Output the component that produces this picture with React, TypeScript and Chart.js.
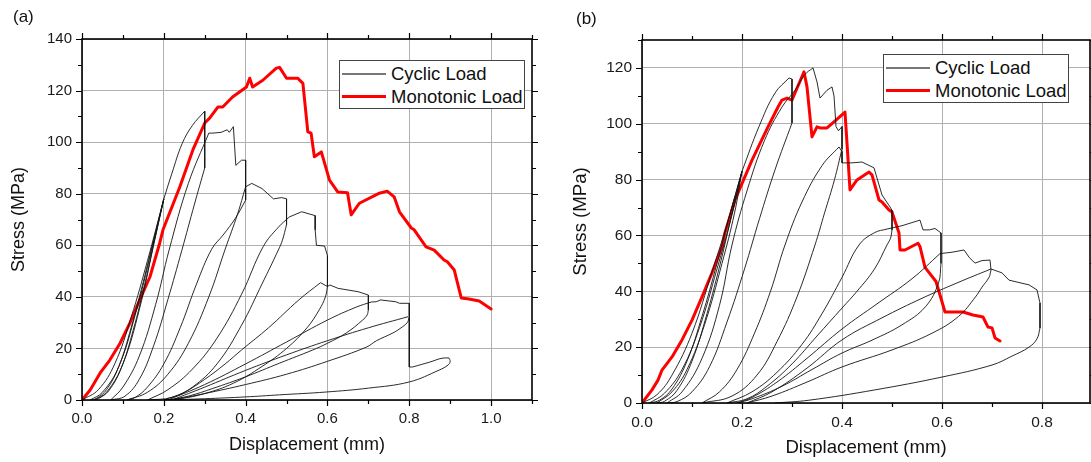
import React, { useEffect, useRef } from "react";
import { Chart, registerables } from "chart.js";

Chart.register(...registerables);
Chart.defaults.font.family = "'Liberation Sans', Arial, sans-serif";

type Pt = [number, number];

// ---------------- Panel (a) ----------------
const aXTicks = [0, 0.2, 0.4, 0.6, 0.8, 1.0];
const aXMinorTicks = [0.1, 0.3, 0.5, 0.7, 0.9, 1.1];
const aYTicks = [0, 20, 40, 60, 80, 100, 120, 140];
const aYMinorTicks = [10, 30, 50, 70, 90, 110, 130];

const aMonotonic: Pt[] = [
  [0, 0], [0.02, 3.9], [0.044, 10.4], [0.068, 15.5], [0.093, 22], [0.117, 29.8], [0.141, 38.8],
  [0.166, 47.7], [0.19, 60.9], [0.198, 66], [0.239, 82.6], [0.271, 97], [0.3, 107.4], [0.312, 109.3],
  [0.332, 113.6], [0.344, 113.6], [0.368, 117.5], [0.402, 121.4], [0.41, 124.8], [0.417, 121.4],
  [0.442, 124], [0.475, 128.7], [0.483, 129], [0.5, 124.8], [0.527, 124.8], [0.54, 122.8], [0.552, 104],
  [0.56, 103.5], [0.568, 94.3], [0.585, 96.2], [0.605, 85.3], [0.625, 80.7], [0.649, 80.4], [0.658, 71.8],
  [0.678, 76.3], [0.727, 80.2], [0.746, 81], [0.763, 78.8], [0.776, 73], [0.805, 66.7], [0.812, 66],
  [0.841, 59.4], [0.861, 58.1], [0.885, 54.3], [0.893, 53.6], [0.91, 50.4], [0.927, 39.6], [0.946, 39.2],
  [0.971, 38.4], [1.0, 35.3],
];

// smooth loading / unloading branches of the cyclic test
const aCyclicCurves: Pt[][] = [
  [[0, 0], [0.04, 4], [0.08, 14], [0.12, 32], [0.16, 54], [0.2, 78]],
  [[0.2, 78], [0.175, 62], [0.15, 46], [0.12, 28], [0.09, 13], [0.06, 4], [0.035, 0.6], [0.02, 0]],
  [[0.02, 0], [0.05, 3], [0.09, 13], [0.13, 33], [0.17, 58], [0.2, 78]],
  [[0.2, 78], [0.18, 64], [0.155, 46], [0.125, 27], [0.095, 12], [0.065, 3.5], [0.04, 0.5], [0.03, 0]],
  [[0.03, 0], [0.06, 3], [0.1, 14], [0.14, 35], [0.175, 60], [0.2, 78]],
  [[0.2, 78], [0.22, 88], [0.245, 99.5], [0.27, 106.5], [0.3, 112]],
  [[0.3, 90], [0.275, 76], [0.244, 58], [0.21, 39], [0.175, 21], [0.14, 8], [0.105, 1.5], [0.07, 0]],
  [[0.07, 0], [0.1, 5], [0.14, 17], [0.18, 37], [0.213, 58.2], [0.26, 84], [0.31, 103.5]],
  [[0.4, 77.5], [0.375, 70.5], [0.345, 64], [0.317, 58.5], [0.28, 45], [0.24, 28], [0.2, 14], [0.16, 5], [0.13, 1], [0.11, 0]],
  [[0.11, 0], [0.16, 3], [0.21, 10], [0.26, 22], [0.31, 40], [0.35, 58.5], [0.38, 72], [0.4, 82.7]],
  [[0.5, 68], [0.49, 62], [0.48, 58.2], [0.44, 45], [0.39, 29], [0.33, 14], [0.27, 5], [0.22, 1], [0.16, 0]],
  [[0.16, 0], [0.21, 4], [0.27, 12], [0.33, 24], [0.39, 41], [0.443, 59.5], [0.48, 67], [0.507, 71]],
  [[0.6, 44], [0.595, 40], [0.58, 35], [0.55, 28], [0.5, 20], [0.44, 13], [0.37, 6.5], [0.3, 2.5], [0.24, 0.5], [0.2, 0]],
  [[0.2, 0], [0.25, 3], [0.3, 8], [0.35, 14], [0.39, 19.4], [0.456, 28], [0.53, 38.8], [0.583, 45.5]],
  [[0.7, 35], [0.697, 33], [0.686, 31], [0.646, 26], [0.6, 22], [0.564, 19.4], [0.483, 14.3], [0.4, 9], [0.32, 4.5], [0.26, 1.5], [0.21, 0]],
  [[0.21, 0], [0.3, 6], [0.4, 14], [0.5, 22.5], [0.6, 31], [0.67, 36], [0.707, 38]],
  [[0.8, 32], [0.795, 30], [0.78, 28], [0.76, 26], [0.72, 23], [0.695, 20.5], [0.6, 15], [0.5, 10], [0.4, 6], [0.3, 2.5], [0.22, 0]],
  [[0.22, 0], [0.3, 5], [0.4, 11.5], [0.5, 17.5], [0.6, 23], [0.7, 28], [0.797, 32.3]],
  [[0.808, 12.8], [0.85, 14.7], [0.88, 16.2], [0.897, 16.3]],
  [[0.897, 16.3], [0.9, 15], [0.895, 13.6], [0.873, 11.6], [0.8, 7], [0.7, 4.6], [0.597, 3.1], [0.483, 2], [0.4, 1.2], [0.3, 0.5], [0.2, 0]],
];

// jagged envelope pieces and sudden stress drops (straight segments)
const aCyclicSteps: Pt[][] = [
  [[0.3, 112], [0.3, 90]],
  [[0.31, 103.5], [0.32, 103.5], [0.34, 103.8], [0.355, 104.8], [0.36, 103.8], [0.37, 106], [0.376, 91], [0.39, 93], [0.4, 93], [0.4, 77.5]],
  [[0.4, 82.7], [0.415, 84], [0.44, 82], [0.468, 78], [0.488, 78.5], [0.5, 78], [0.5, 68]],
  [[0.507, 71], [0.537, 73], [0.57, 71.5], [0.57, 66], [0.573, 60], [0.593, 59.7], [0.6, 56], [0.6, 44]],
  [[0.583, 45.5], [0.6, 44], [0.606, 44.6], [0.626, 43.3], [0.675, 42], [0.7, 40.7], [0.7, 35]],
  [[0.707, 38], [0.719, 38.1], [0.73, 38.8], [0.767, 38.1], [0.776, 37.5], [0.8, 37.5], [0.8, 12.8], [0.808, 12.8]],
];

// ---------------- Panel (b) ----------------
const bXTicks = [0, 0.2, 0.4, 0.6, 0.8];
const bXMinorTicks = [0.1, 0.3, 0.5, 0.7, 0.9];
const bYTicks = [0, 20, 40, 60, 80, 100, 120];
const bYMinorTicks = [10, 30, 50, 70, 90, 110, 130];

const bMonotonic: Pt[] = [
  [0, 0], [0.02, 4.7], [0.032, 8.2], [0.04, 11.8], [0.06, 16.5], [0.08, 22.6], [0.1, 29.7], [0.12, 38],
  [0.14, 46.6], [0.16, 56], [0.166, 61], [0.186, 72.7], [0.22, 87], [0.252, 98.9], [0.272, 106],
  [0.28, 108.5], [0.29, 109.2], [0.3, 108.5], [0.324, 118.6], [0.33, 113.2], [0.34, 95.3], [0.35, 98.9],
  [0.356, 98.5], [0.37, 98.5], [0.384, 100.7], [0.406, 104.2], [0.416, 76.3], [0.43, 79.9], [0.454, 82.7],
  [0.46, 81.7], [0.474, 72.7], [0.48, 72], [0.494, 69.1], [0.5, 68.4], [0.514, 60.9], [0.516, 54.8],
  [0.526, 54.8], [0.552, 57.2], [0.556, 56], [0.566, 48.6], [0.588, 43.5], [0.606, 32.6], [0.626, 32.6],
  [0.642, 32.6], [0.662, 31.5], [0.682, 30.8], [0.692, 27.2], [0.7, 26.9], [0.706, 23.3], [0.716, 22.2],
];

const bCyclicCurves: Pt[][] = [
  [[0, 0], [0.03, 3], [0.06, 10], [0.1, 25], [0.14, 47], [0.17, 64], [0.2, 83]],
  [[0.2, 83], [0.175, 67], [0.15, 50], [0.12, 31], [0.09, 15], [0.06, 5], [0.035, 1], [0.015, 0]],
  [[0.015, 0], [0.045, 3.5], [0.08, 12], [0.115, 27], [0.15, 48], [0.178, 66], [0.2, 83]],
  [[0.2, 83], [0.18, 68], [0.158, 51], [0.13, 32], [0.1, 15], [0.07, 4.5], [0.045, 0.6], [0.03, 0]],
  [[0.03, 0], [0.06, 4], [0.09, 12], [0.125, 28], [0.16, 50], [0.185, 68], [0.2, 83]],
  [[0.2, 83], [0.234, 99], [0.266, 111], [0.294, 116.4]],
  [[0.3, 100.3], [0.266, 83.5], [0.235, 66], [0.205, 48], [0.17, 29], [0.135, 13], [0.1, 4], [0.07, 0.5], [0.05, 0]],
  [[0.05, 0], [0.08, 4], [0.12, 16], [0.155, 35], [0.18, 56.6], [0.21, 76], [0.245, 94], [0.28, 106], [0.306, 112], [0.325, 117.5], [0.342, 120]],
  [[0.4, 91], [0.385, 80], [0.365, 68], [0.346, 56.6], [0.31, 38], [0.27, 22], [0.23, 10], [0.18, 2.5], [0.12, 0]],
  [[0.12, 0], [0.155, 4], [0.19, 12], [0.225, 25], [0.257, 40], [0.286, 56.6], [0.32, 72], [0.36, 85], [0.394, 91.7]],
  [[0.5, 62], [0.497, 59], [0.49, 56.6], [0.465, 48], [0.43, 40], [0.4, 34], [0.35, 24], [0.3, 14], [0.25, 6], [0.21, 1.5], [0.17, 0]],
  [[0.17, 0], [0.22, 4], [0.27, 11], [0.32, 21], [0.36, 32], [0.4, 45], [0.434, 56.6], [0.465, 61], [0.49, 62.3]],
  [[0.598, 50], [0.593, 43], [0.567, 34.5], [0.52, 28], [0.46, 22.5], [0.4, 17.9], [0.34, 12], [0.28, 6], [0.22, 1.5], [0.19, 0]],
  [[0.19, 0], [0.22, 2], [0.27, 7.5], [0.33, 16], [0.4, 26.5], [0.47, 35.5], [0.54, 44.5], [0.596, 53.5]],
  [[0.698, 47.6], [0.694, 45], [0.68, 41.5], [0.667, 38], [0.633, 31], [0.58, 25], [0.5, 19], [0.4, 12.9], [0.33, 7.5], [0.26, 2.5], [0.21, 0]],
  [[0.21, 0], [0.26, 4], [0.33, 12.5], [0.4, 22.6], [0.48, 30.5], [0.56, 37.5], [0.63, 43], [0.698, 48]],
  [[0.796, 26.9], [0.79, 23], [0.774, 20], [0.74, 16.8], [0.7, 13.6], [0.6, 9.3], [0.466, 4.7], [0.334, 1], [0.266, 0]],
];

const bCyclicSteps: Pt[][] = [
  [[0.294, 116.4], [0.3, 116], [0.3, 100.3]],
  [[0.342, 120], [0.35, 115], [0.356, 109.2], [0.37, 112], [0.38, 113.2], [0.384, 110], [0.388, 99], [0.393, 97.5], [0.4, 99], [0.4, 91]],
  [[0.394, 91.7], [0.4, 90], [0.4, 86], [0.42, 86], [0.44, 86.3], [0.464, 84.2], [0.48, 74.5], [0.496, 70.2], [0.5, 69], [0.5, 62]],
  [[0.49, 62.3], [0.52, 63.5], [0.556, 65.5], [0.562, 62], [0.575, 62], [0.586, 62.5], [0.598, 60.9], [0.598, 50]],
  [[0.596, 53.5], [0.62, 54], [0.644, 54.8], [0.655, 52], [0.666, 50.1], [0.68, 51], [0.696, 51.2], [0.698, 47.6]],
  [[0.698, 48], [0.72, 46.6], [0.734, 44], [0.774, 42.3], [0.79, 40.5], [0.796, 35.8], [0.796, 26.9]],
];

const CYCLIC_LABEL = "Cyclic Load";
const MONO_LABEL = "Monotonic Load";
const X_TITLE = "Displacement (mm)";
const Y_TITLE = "Stress (MPa)";

const FONT = "'Liberation Sans', Arial, sans-serif";
const CYC_COLOR = "rgba(20,20,20,0.9)";
const RED = "#ff0000";

type Spec = {
  mono: Pt[];
  curves: Pt[][];
  steps: Pt[][];
  xTicks: number[];
  xMinor: number[];
  yTicks: number[];
  yMinor: number[];
  xMax: number;
  yMax: number;
  width: number;
  yAxisW: number;
  xAxisH: number;
  padTop: number;
  padRight: number;
  tickFont: number;
  titleFont: number;
  xTitlePad: number;
  yTitlePad: number;
};

function makeFramePlugin(spec: Spec) {
  return {
    id: "frameTicks",
    afterDraw(chart: any) {
      const { ctx, chartArea } = chart;
      const { left, right, top, bottom } = chartArea;
      const xs = chart.scales.x;
      const ys = chart.scales.y;
      ctx.save();
      ctx.strokeStyle = "#000";
      ctx.lineWidth = 1.2;
      ctx.beginPath();
      const tickX = (v: number, len: number) => {
        const p = Math.round(xs.getPixelForValue(v)) + 0.5;
        ctx.moveTo(p, bottom);
        ctx.lineTo(p, bottom + len);
        ctx.moveTo(p, top);
        ctx.lineTo(p, top - len);
      };
      const tickY = (v: number, len: number) => {
        const p = Math.round(ys.getPixelForValue(v)) + 0.5;
        ctx.moveTo(left, p);
        ctx.lineTo(left - len, p);
        ctx.moveTo(right, p);
        ctx.lineTo(right + len, p);
      };
      spec.xTicks.forEach((v) => tickX(v, 6));
      spec.xMinor.forEach((v) => tickX(v, 4));
      spec.yTicks.forEach((v) => tickY(v, 6));
      spec.yMinor.forEach((v) => tickY(v, 4));
      ctx.stroke();
      ctx.lineWidth = 1.6;
      ctx.strokeRect(left, top, right - left, bottom - top);
      ctx.restore();
    },
  };
}

function toXY(pts: Pt[]) {
  return pts.map(([x, y]) => ({ x, y }));
}

function buildConfig(spec: Spec): any {
  const datasets: any[] = [];
  spec.curves.forEach((c) =>
    datasets.push({
      label: CYCLIC_LABEL,
      data: toXY(c),
      borderColor: CYC_COLOR,
      borderWidth: 1,
      pointRadius: 0,
      showLine: true,
      tension: 0.4,
      fill: false,
    })
  );
  spec.steps.forEach((c) =>
    datasets.push({
      label: CYCLIC_LABEL,
      data: toXY(c),
      borderColor: CYC_COLOR,
      borderWidth: 1,
      pointRadius: 0,
      showLine: true,
      tension: 0,
      fill: false,
    })
  );
  datasets.push({
    label: MONO_LABEL,
    data: toXY(spec.mono),
    borderColor: RED,
    borderWidth: 3,
    pointRadius: 0,
    showLine: true,
    tension: 0,
    fill: false,
    borderJoinStyle: "round",
    borderCapStyle: "round",
  });

  return {
    type: "scatter",
    data: { datasets },
    options: {
      responsive: false,
      animation: false,
      events: [],
      layout: { padding: { top: spec.padTop, right: spec.padRight, left: 0, bottom: 0 } },
      plugins: { legend: { display: false }, tooltip: { enabled: false } },
      scales: {
        x: {
          type: "linear",
          min: 0,
          max: spec.xMax,
          afterFit: (s: any) => {
            s.height = spec.xAxisH;
          },
          afterBuildTicks: (s: any) => {
            s.ticks = spec.xTicks.map((v) => ({ value: v }));
          },
          ticks: {
            callback: (v: any) => Number(v).toFixed(1),
            padding: 10,
            autoSkip: false,
            maxRotation: 0,
            color: "#1a1a1a",
            font: { size: spec.tickFont, family: FONT },
          },
          grid: { color: "#b0b0b0", lineWidth: 1, drawTicks: false },
          border: { display: false },
          title: {
            display: true,
            text: X_TITLE,
            color: "#111",
            font: { size: spec.titleFont, family: FONT },
            padding: { top: 0, bottom: spec.xTitlePad },
          },
        },
        y: {
          type: "linear",
          min: 0,
          max: spec.yMax,
          afterFit: (s: any) => {
            s.width = spec.yAxisW;
          },
          afterBuildTicks: (s: any) => {
            s.ticks = spec.yTicks.map((v) => ({ value: v }));
          },
          ticks: {
            callback: (v: any) => String(v),
            padding: 10,
            autoSkip: false,
            color: "#1a1a1a",
            font: { size: spec.tickFont, family: FONT },
          },
          grid: { color: "#b0b0b0", lineWidth: 1, drawTicks: false },
          border: { display: false },
          title: {
            display: true,
            text: Y_TITLE,
            color: "#111",
            font: { size: spec.titleFont, family: FONT },
            padding: { top: spec.yTitlePad, bottom: 0 },
          },
        },
      },
    },
    plugins: [makeFramePlugin(spec)],
  };
}

const specA: Spec = {
  mono: aMonotonic,
  curves: aCyclicCurves,
  steps: aCyclicSteps,
  xTicks: aXTicks,
  xMinor: aXMinorTicks,
  yTicks: aYTicks,
  yMinor: aYMinorTicks,
  xMax: 1.1,
  yMax: 140,
  width: 545,
  yAxisW: 82,
  xAxisH: 62,
  padTop: 39,
  padRight: 13,
  tickFont: 15,
  titleFont: 18,
  xTitlePad: 6,
  yTitlePad: 8,
};

const specB: Spec = {
  mono: bMonotonic,
  curves: bCyclicCurves,
  steps: bCyclicSteps,
  xTicks: bXTicks,
  xMinor: bXMinorTicks,
  yTicks: bYTicks,
  yMinor: bYMinorTicks,
  xMax: 0.896,
  yMax: 130,
  width: 546,
  yAxisW: 97,
  xAxisH: 59,
  padTop: 40,
  padRight: 1,
  tickFont: 15.5,
  titleFont: 18.6,
  xTitlePad: 2.5,
  yTitlePad: 25,
};

function Panel({ spec, left }: { spec: Spec; left: number }) {
  const ref = useRef<HTMLCanvasElement>(null);
  useEffect(() => {
    const chart = new Chart(ref.current as HTMLCanvasElement, buildConfig(spec));
    return () => chart.destroy();
  }, [spec]);
  return (
    <canvas
      ref={ref}
      width={spec.width}
      height={462}
      style={{ position: "absolute", left, top: 0, width: spec.width, height: 462 }}
    />
  );
}

function Legend({ left, top }: { left: number; top: number }) {
  const rowText: React.CSSProperties = {
    position: "absolute",
    left: 51,
    height: 22,
    lineHeight: "22px",
    fontSize: 18.5,
    color: "#111",
    whiteSpace: "nowrap",
  };
  return (
    <div
      style={{
        position: "absolute",
        left,
        top,
        width: 186,
        height: 49,
        boxSizing: "border-box",
        border: "1px solid #444",
        background: "#fff",
        fontFamily: FONT,
      }}
    >
      <div style={{ position: "absolute", left: 2, top: 12, width: 44, height: 1.5, background: "#777" }} />
      <div style={{ ...rowText, top: 1.5 }}>{CYCLIC_LABEL}</div>
      <div style={{ position: "absolute", left: 2, top: 34, width: 44, height: 3, background: RED }} />
      <div style={{ ...rowText, top: 24.5 }}>{MONO_LABEL}</div>
    </div>
  );
}

export default function App() {
  return (
    <div
      style={{
        position: "absolute",
        left: 0,
        top: 0,
        width: 1091,
        height: 462,
        background: "#fff",
        overflow: "hidden",
        fontFamily: FONT,
      }}
    >
      <Panel spec={specA} left={0} />
      <Panel spec={specB} left={545} />
      <div style={{ position: "absolute", left: 13, top: 7, fontSize: 17, color: "#111" }}>(a)</div>
      <div style={{ position: "absolute", left: 576, top: 9, fontSize: 17, color: "#111" }}>(b)</div>
      <Legend left={339} top={60} />
      <Legend left={883} top={54} />
    </div>
  );
}
